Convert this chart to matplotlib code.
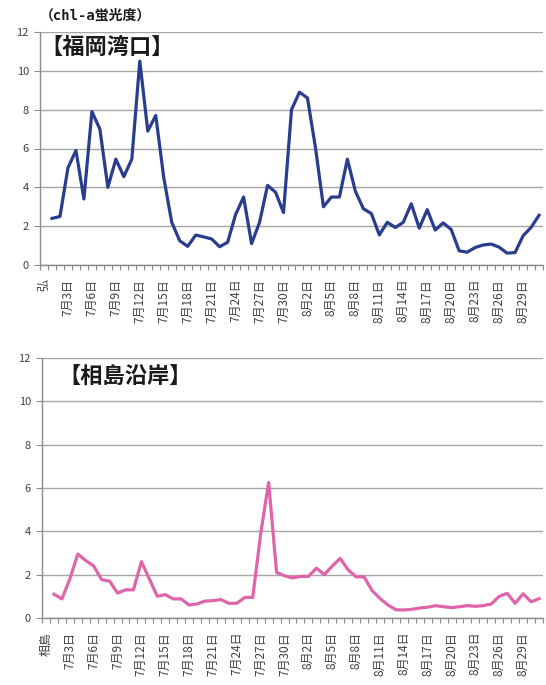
import matplotlib.pyplot as plt
import numpy as np

plt.rcParams['font.family'] = ['Noto Sans CJK JP', 'DejaVu Sans']

# 7/1 - 8/31, category 0 is the station header cell
days = ['7月%d日' % d for d in range(1, 32)] + ['8月%d日' % d for d in range(1, 32)]

fukuoka = [2.4, 2.5, 5.0, 5.9, 3.4, 7.9, 7.0, 4.0, 5.45, 4.55,
           5.45, 10.5, 6.9, 7.7, 4.5, 2.2, 1.25, 0.96, 1.54, 1.45,
           1.34, 0.94, 1.17, 2.6, 3.5, 1.1, 2.2, 4.1, 3.75, 2.7,
           8.0, 8.9, 8.6, 6.05, 3.0, 3.5, 3.5, 5.45, 3.8, 2.9,
           2.65, 1.55, 2.2, 1.93, 2.2, 3.15, 1.9, 2.85, 1.8, 2.17,
           1.83, 0.73, 0.66, 0.9, 1.03, 1.08, 0.92, 0.61, 0.64, 1.5,
           1.93, 2.56]

aishima = [1.1, 0.88, 1.8, 2.95, 2.65, 2.4, 1.77, 1.7, 1.15, 1.3,
           1.3, 2.6, 1.8, 1.0, 1.08, 0.88, 0.88, 0.6, 0.65, 0.78,
           0.8, 0.85, 0.68, 0.68, 0.95, 0.95, 3.9, 6.25, 2.1, 1.95,
           1.85, 1.92, 1.92, 2.3, 2.0, 2.4, 2.75, 2.22, 1.9, 1.9,
           1.27, 0.9, 0.6, 0.38, 0.37, 0.4, 0.46, 0.5, 0.57, 0.52,
           0.48, 0.52, 0.57, 0.54, 0.57, 0.65, 1.0, 1.14, 0.68, 1.12,
           0.75, 0.89]

yticks = [0, 2, 4, 6, 8, 10, 12]

W, H = 546, 685
fig = plt.figure(figsize=(W / 100, H / 100), dpi=100)


def panel(rect, header, values, color, title, title_xy):
    ax = fig.add_axes(rect)
    x = np.arange(len(days) + 1)
    y = np.array([np.nan] + values)
    ax.plot(x, y, color=color, lw=2.3, solid_joinstyle='round', zorder=3)
    ax.set_xlim(-0.5, len(days) + 0.5)
    ax.set_ylim(0, 12)
    ax.set_yticks(yticks)
    ax.set_yticklabels([str(v) for v in yticks], fontsize=8, color='#404040')
    ax.grid(axis='y', color='#a6a6a6', lw=1.0)
    ax.set_axisbelow(True)
    labels = [header] + days
    ax.set_xticks(x[::3])
    ax.set_xticklabels(labels[::3], rotation=90, fontsize=8.6, color='#404040')
    ax.set_xticks(np.arange(-0.5, len(days) + 1, 1), minor=True)
    ax.tick_params(axis='x', which='major', length=0, pad=10)
    ax.tick_params(axis='x', which='minor', length=3.5, color='#8c8c8c', width=0.8)
    ax.tick_params(axis='y', length=4, color='#8c8c8c', width=0.8, pad=4)
    for s in ['top', 'right']:
        ax.spines[s].set_visible(False)
    for s in ['left', 'bottom']:
        ax.spines[s].set_color('#8c8c8c')
        ax.spines[s].set_linewidth(1.0)
    fig.text(title_xy[0] / W, 1 - title_xy[1] / H, title, fontsize=16,
             fontweight='bold', color='#1a1a1a', va='center', ha='left')
    return ax


panel([40 / W, 1 - 265 / H, 503 / W, 233 / H], '弘', fukuoka, '#293d8f',
      '【福岡湾口】', (40, 47))
panel([42 / W, 1 - 618 / H, 501 / W, 260 / H], '相島', aishima, '#e064aa',
      '【相島沿岸】', (58, 377))

fig.text(40 / W, 1 - 15 / H, '（chl-a蛍光度）', fontsize=10, fontweight='bold',
         family=['DejaVu Sans Mono', 'Noto Sans CJK JP'],
         color='#1a1a1a', va='center', ha='left')

fig.savefig('out.png', dpi=100)
